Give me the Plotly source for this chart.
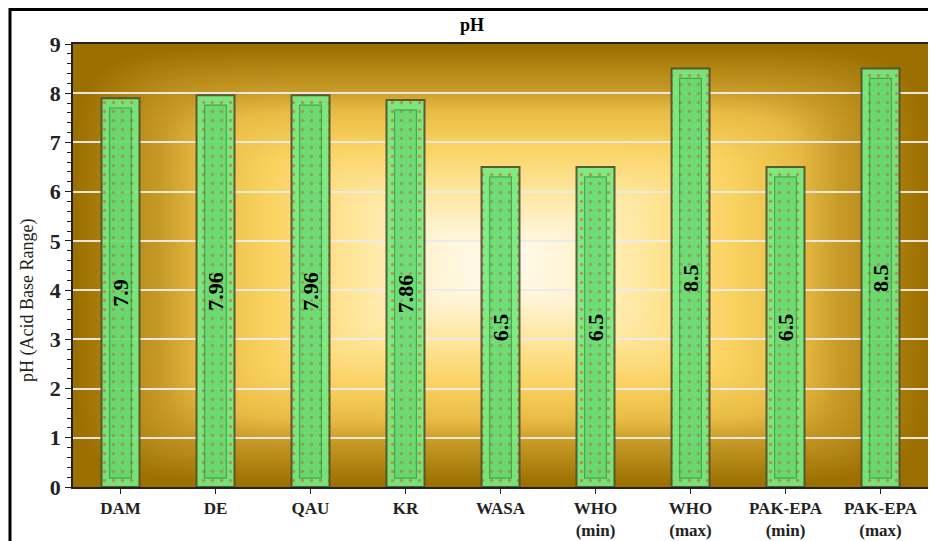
import base64
import struct
import zlib

import numpy as np
import plotly.graph_objects as go

# data
sites = ["DAM", "DE", "QAU", "KR", "WASA", "WHO<br>(min)", "WHO<br>(max)",
         "PAK-EPA<br>(min)", "PAK-EPA<br>(max)"]
ph_values = [7.9, 7.96, 7.96, 7.86, 6.5, 6.5, 8.5, 6.5, 8.5]
value_labels = ["7.9", "7.96", "7.96", "7.86", "6.5", "6.5", "8.5", "6.5", "8.5"]
y_ticks = list(range(0, 10))

SERIF = "Liberation Serif, Times New Roman, serif"


def gradient_png(w=428, h=222):
    """Rectangular 'from centre' gradient like the Excel plot area fill."""
    xs = np.linspace(-1, 1, w)
    ys = np.linspace(-1, 1, h)
    X, Y = np.meshgrid(xs, ys)
    p = 8.0
    d = (np.abs(X) ** p + np.abs(Y) ** p) ** (1 / p)
    d = np.clip(d, 0, 1)
    stops = [0.0, 0.15, 0.33, 0.55, 0.7, 0.8, 1.0]
    cols = np.array([[255, 252, 240], [255, 245, 215], [255, 232, 160],
                     [250, 210, 95], [232, 188, 70], [200, 155, 40],
                     [155, 112, 0]], dtype=float)
    img = np.zeros((h, w, 3))
    for c in range(3):
        img[..., c] = np.interp(d, stops, cols[:, c])
    img = img.astype(np.uint8)
    raw = b"".join(b"\x00" + img[r].tobytes() for r in range(h))

    def chunk(tag, data):
        c = struct.pack(">I", len(data)) + tag + data
        return c + struct.pack(">I", zlib.crc32(tag + data) & 0xffffffff)

    png = b"\x89PNG\r\n\x1a\n"
    png += chunk(b"IHDR", struct.pack(">IIBBBBB", w, h, 8, 2, 0, 0, 0))
    png += chunk(b"IDAT", zlib.compress(raw, 9))
    png += chunk(b"IEND", b"")
    return "data:image/png;base64," + base64.b64encode(png).decode()


fig = go.Figure()

# outer bar (light green frame with red dot pattern)
fig.add_trace(go.Bar(
    x=sites, y=ph_values, width=0.4,
    marker=dict(
        color="rgba(115,236,128,0.92)",
        line=dict(color="rgba(80,78,45,0.9)", width=2),
        pattern=dict(shape=".", fgcolor="#f04030", size=9, solidity=0.12,
                     fillmode="overlay"),
    ),
    hoverinfo="skip",
))

# inner bevel panel, carries the value labels
fig.add_trace(go.Bar(
    x=sites, y=[v - 0.38 for v in ph_values], base=0.18, width=0.23,
    marker=dict(
        color="rgba(70,190,90,0.3)",
        line=dict(color="rgba(40,130,55,0.6)", width=1.2),
    ),
    text=value_labels, textposition="inside", insidetextanchor="middle",
    textangle=-90, constraintext="none",
    textfont=dict(family=SERIF, size=22, color="black", weight="bold"),
    hovertemplate="%{x}: %{text}<extra></extra>",
))

# the page body adds an 8px offset, so the figure is 928x533
fig.update_layout(
    width=928, height=533,
    margin=dict(l=65, r=8, t=36, b=54),
    barmode="overlay",
    showlegend=False,
    paper_bgcolor="white",
    plot_bgcolor="rgba(0,0,0,0)",
    title=dict(text="<b>pH</b>", x=0.5, xanchor="center", y=0.968, yanchor="middle",
               font=dict(family=SERIF, size=18, color="black")),
    images=[dict(source=gradient_png(), xref="paper", yref="paper", x=0, y=1,
                 sizex=1, sizey=1, sizing="stretch", layer="below")],
    shapes=[dict(type="rect", xref="paper", yref="paper",
                 x0=-0.0737, x1=1.1, y0=-0.3, y1=1.0779,
                 line=dict(color="black", width=3))],
    annotations=[dict(text="pH (Acid Base Range)", xref="paper", yref="paper",
                      x=-0.0526, y=0.42, textangle=-90, showarrow=False,
                      xanchor="center", yanchor="middle",
                      font=dict(family=SERIF, size=18, color="#222"))],
)

fig.update_xaxes(
    type="category", automargin=False,
    showline=True, linecolor="#222", linewidth=1.5, mirror=True,
    ticks="outside", ticklen=5, tickcolor="#222",
    tickfont=dict(family=SERIF, size=17, color="#222", weight="bold"),
    showgrid=False,
)

fig.update_yaxes(
    range=[0, 9], tickvals=y_ticks, automargin=False,
    showline=True, linecolor="#222", linewidth=1.5, mirror=True,
    ticks="outside", ticklen=6, tickcolor="#222",
    minor=dict(dtick=0.2, ticks="outside", ticklen=4, tickcolor="#222", showgrid=False),
    tickfont=dict(family=SERIF, size=22, color="#222", weight="bold"),
    gridcolor="rgba(235,235,235,0.95)", gridwidth=2,
    zeroline=False,
)

fig.write_html("out.html")
